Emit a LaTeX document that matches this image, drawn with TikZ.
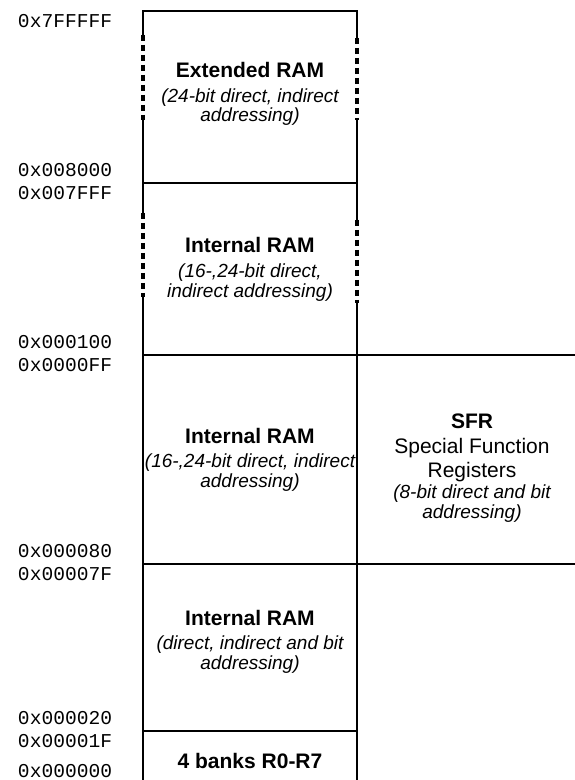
\documentclass[tikz,border=0pt]{standalone}
\usepackage{fontspec}
\setmainfont{Liberation Sans}
\setmonofont{Liberation Mono}
\usepackage{tikz}
\usetikzlibrary{calc}
\usetikzlibrary{positioning}

\newcommand{\modefont}{\fontsize{9.5}{9.5}\selectfont\itshape}

\begin{document}
\begin{tikzpicture}[-,auto,node distance=0pt, line width=1pt]
	\tikzstyle{region}=[draw=black, fill=white, text=black, inner sep=0pt, outer sep=0pt, minimum width=107pt, align=center, font=\fontsize{10.5}{9.5}\selectfont]
	\tikzstyle{addr}=[anchor=west, inner sep=0pt, font=\ttfamily\fontsize{9.8}{11}\selectfont]
	\tikzstyle{gap}=[draw=black, line width=1.6pt, dash pattern=on 3pt off 2pt]
	\useasboundingbox (-71.5pt,5.5pt) rectangle (215.5pt,-384.5pt);

	\node[region, minimum height=86pt, anchor=north west, text depth=5pt] (ext) at (0,0) {\textbf{Extended RAM}\\[3pt]\modefont (24-bit direct, indirect\\\modefont addressing)};
	\node[region, minimum height=86pt] (int2) [below=of ext] {\textbf{Internal RAM}\\[3pt]\modefont (16-,24-bit direct,\\[0.5pt]\modefont indirect addressing)};
	\node[region, minimum height=104.5pt] (int3) [below=of int2] {\textbf{Internal RAM}\\[2.5pt]\modefont (16-,24-bit direct, indirect\\[0.5pt]\modefont addressing)};
	\node[region, minimum height=104.5pt, minimum width=115pt, text height=61pt] (sfr) [right=of int3] {\textbf{SFR}\\[3pt]Special Function\\[1pt]Registers\\[1pt]\modefont (8-bit direct and bit\\[0.5pt]\modefont addressing)};
	\node[region, minimum height=83.5pt, text depth=8pt] (int4) [below=of int3] {\textbf{Internal RAM}\\[2.5pt]\modefont (direct, indirect and bit\\[0.5pt]\modefont addressing)};
	\node[region, minimum height=30pt] (banks) [below=of int4] {\textbf{4 banks R0-R7}};

	% broken sides of the large areas
	\foreach \n/\la/\lb/\ra/\rb in {ext/12/54.5/13.5/54.5, int2/15/57/18.5/60}{
		\draw[white, line width=2.5pt] ($(\n.north west)+(0,-\la pt)$) -- ($(\n.north west)+(0,-\lb pt)$);
		\draw[gap] ($(\n.north west)+(0,-\la pt)$) -- ($(\n.north west)+(0,-\lb pt)$);
		\draw[white, line width=2.5pt] ($(\n.north east)+(0,-\ra pt)$) -- ($(\n.north east)+(0,-\rb pt)$);
		\draw[gap] ($(\n.north east)+(0,-\ra pt)$) -- ($(\n.north east)+(0,-\rb pt)$);
	}

	% addresses
	\node[addr] (a7FFFFF) at ($(ext.north west)+(-63pt,-5pt)$) {0x7FFFFF};
	\foreach \n/\hi/\lo in {int2/008000/007FFF, int3/000100/0000FF, int4/000080/00007F, banks/000020/00001F}{
		\node[addr] (a\hi) at ($(\n.north west)+(-63pt,6.25pt)$) {0x\hi};
		\node[addr] (a\lo) at ($(\n.north west)+(-63pt,-5.25pt)$) {0x\lo};
	}
	\node[addr] (a000000) at ($(banks.north west)+(-63pt,-20pt)$) {0x000000};
\end{tikzpicture}
\end{document}
